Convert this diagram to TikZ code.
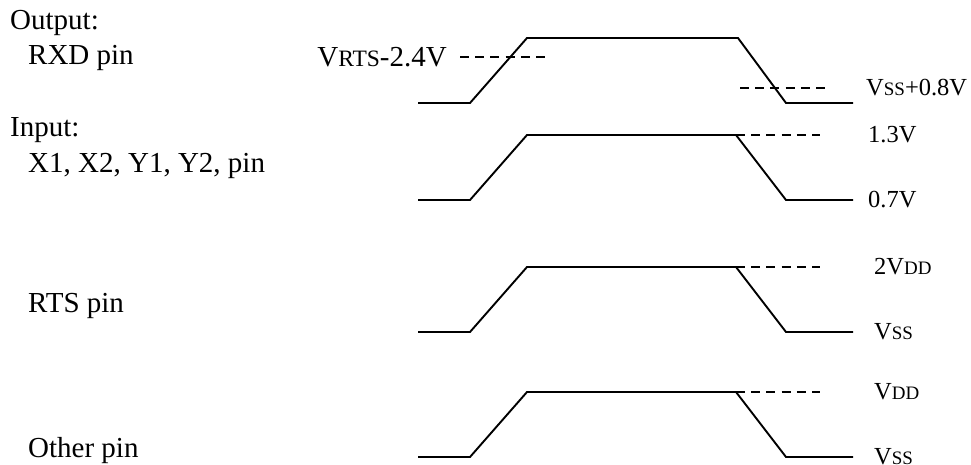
\documentclass[tikz,border=0pt]{standalone}
\usepackage{fontspec}
\setmainfont{Liberation Serif}
\newcommand{\scA}[1]{{\fontsize{23.5}{23.5}\selectfont #1}}
\newcommand{\scB}[1]{{\fontsize{19}{19}\selectfont #1}}
\begin{document}
\begin{tikzpicture}[x=1pt,y=-1pt,
  wave/.style={line width=1.9pt, line join=miter},
  lvl/.style={line width=1.9pt, dash pattern=on 9pt off 6.2pt},
  lab/.style={anchor=base west, inner sep=0pt, font=\fontsize{29}{30}\selectfont},
  rlab/.style={anchor=west, inner sep=0pt, font=\fontsize{24.5}{26}\selectfont}]
\useasboundingbox (0,0) rectangle (971,465);
% left labels
\node[lab] (lout) at (10,30) {Output:};
\node[lab] (lrxd) at (28,65) {RXD pin};
\node[lab] (lin) at (10,137) {Input:};
\node[lab] (lxy) at (28,172) {X1, X2, Y1, Y2, pin};
\node[lab] (lrts) at (28,312) {RTS pin};
\node[lab] (loth) at (28,457) {Other pin};
% waveform 1 (RXD)
\coordinate (a0) at (418,103); \coordinate (a1) at (470,103);
\coordinate (a2) at (527,38);  \coordinate (a3) at (738,38);
\coordinate (a4) at (786,103); \coordinate (a5) at (853,103);
\draw[wave] (a0) -- (a1) -- (a2) -- (a3) -- (a4) -- (a5);
\coordinate (d1s) at (460,57); \coordinate (d1e) at (545,57);
\draw[lvl] (d1s) -- (d1e);
\coordinate (d2s) at (740,88); \coordinate (d2e) at (825,88);
\draw[lvl] (d2s) -- (d2e);
\node[anchor=base east, inner sep=0pt, font=\fontsize{29}{30}\selectfont] (vrts) at (447,67) {V\scA{RTS}-2.4V};
\node[rlab] (vss08) at (866,88) {V\scB{SS}+0.8V};
% waveforms 2-4
\foreach \n/\yh/\yl/\th/\tl/\xo in {b/135/200/{1.3V}/{0.7V}/868, c/267/332/{2V\scB{DD}}/{V\scB{SS}}/874, d/392/457/{V\scB{DD}}/{V\scB{SS}}/874}{
  \coordinate (\n0) at (418,\yl); \coordinate (\n1) at (470,\yl);
  \coordinate (\n2) at (527,\yh); \coordinate (\n3) at (736,\yh);
  \coordinate (\n4) at (786,\yl); \coordinate (\n5) at (853,\yl);
  \coordinate (\n6) at (820,\yh);
  \draw[wave] (\n0) -- (\n1) -- (\n2) -- (\n3) -- (\n4) -- (\n5);
  \draw[lvl] (\n3) -- (\n6);
  \node[rlab] (\n h) at (\xo,\yh) {\th};
  \node[rlab] (\n l) at (\xo,\yl) {\tl};
}
\end{tikzpicture}
\end{document}
